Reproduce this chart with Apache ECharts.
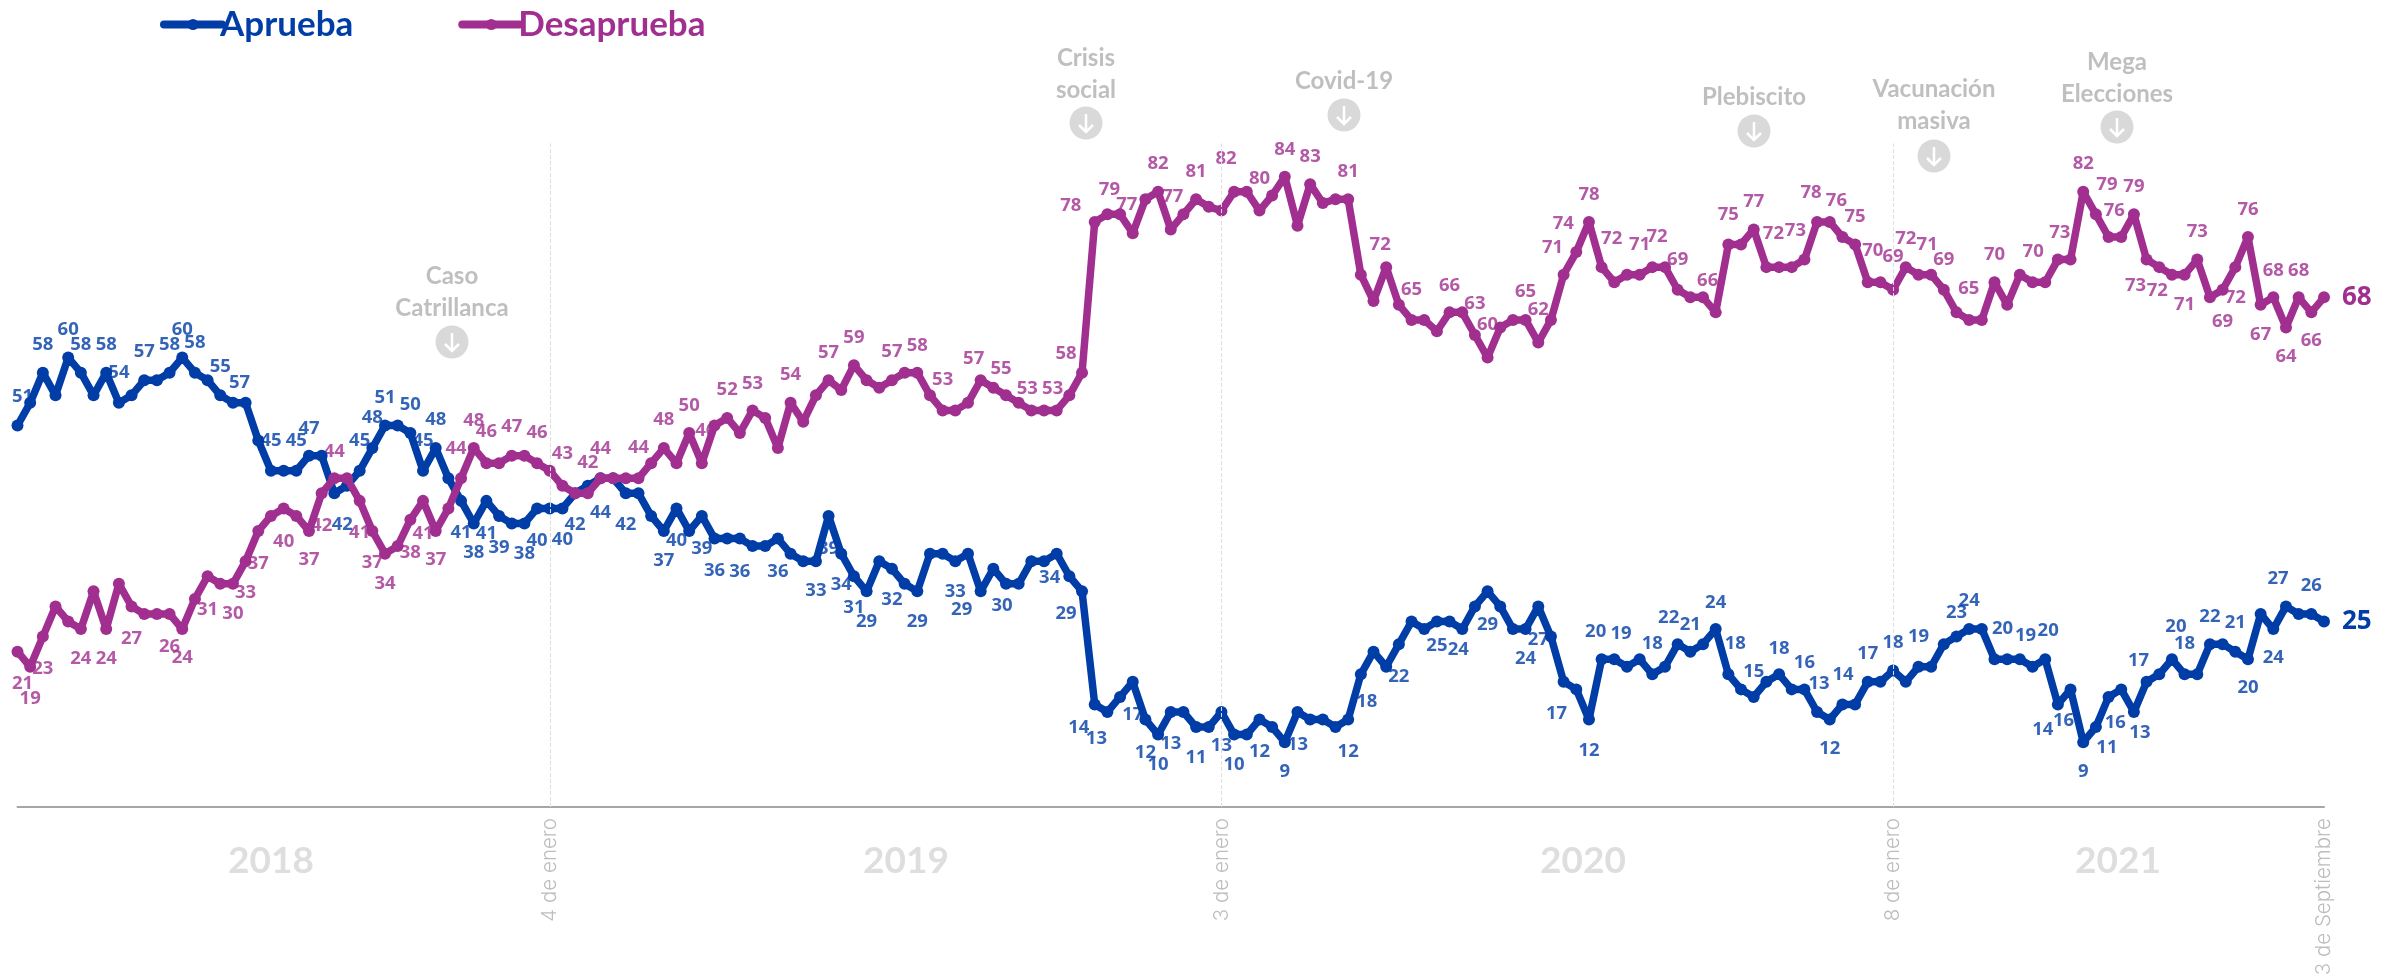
<!DOCTYPE html>
<html><head><meta charset="utf-8">
<style>html,body{margin:0;padding:0;background:#fff}#c{width:2399px;height:975px}</style>
<script src="https://cdn.jsdelivr.net/npm/echarts@6/dist/echarts.min.js"></script>
</head><body><div id="c"></div>
<script>
const aprueba=[51,54,58,55,60,58,55,58,54,55,
57,57,58,60,58,57,55,54,54,49,
45,45,45,47,47,42,43,45,48,51,
51,50,45,48,44,41,38,41,39,38,
38,40,40,40,42,43,44,44,42,42,
39,37,40,37,39,36,36,36,35,35,
36,34,33,33,39,34,31,29,33,32,
30,29,34,34,33,34,29,32,30,30,
33,33,34,31,29,14,13,15,17,12,
10,13,13,11,11,13,10,10,12,11,
9,13,12,12,11,12,18,21,19,22,
25,24,25,25,24,27,29,27,24,24,
27,23,17,16,12,20,20,19,20,18,
19,22,21,22,24,18,16,15,17,18,
16,16,13,12,14,14,17,17,18.5,17,
19,19,22,23,24,24,20,20,20,19,
20,14,16,9,11,15,16,13,17,18,
20,18,18,22,22,21,20,26,24,27,
26,26,25];
const desaprueba=[21,19,23,27,25,24,29,24,30,27,
26,26,26,24,28,31,30,30,33,37,
39,40,39,37,42,44,44,41,37,34,
35,38.5,41,37,40,44,48,46,46,47,
47,46,45,43,42,42,44,44,44,44,
46,48,46,50,46,51,52,50,53,52,
48,54,51.5,55,57,55.7,59,57,56,57,
58,58,55,53,53,54,57,56,55,54,
53,53,53,55,58,78,79,79,76.5,81,
82,77,79,81,80,79.5,82,82,79.5,81.5,
84,77.5,83,80.5,81,81,71,67.5,72,67,
65,65,63.5,66,66,63,60,64,65,65,
62,65,71,74,78,72,70,71,71,72,
72,69,68,68,66,75,75,77,72,72,
72,73,78,78,76,75,70,70,69,72,
71,71,69,66,65,65,70,67,71,70,
70,73,73,82,79,76,76,79,73,72,
71,71,73,68,69,72,76,67,68,64,
68,66,68];
const aprLabelText={0:51,2:58,4:60,5:58,7:58,8:54,10:57,12:58,13:60,14:58,16:55,18:57,20:45,22:45,23:47,25:42,27:45,28:48,29:51,31:50,32:45,33:48,35:41,36:38,37:41,38:39,40:38,41:40,43:40,44:42,46:44,48:42,51:37,52:40,54:39,55:36,57:36,60:36,63:33,64:39,65:34,66:31,67:29,69:32,71:29,74:33,76:29,78:30,82:34,84:29,85:14,86:13,88:17,89:12,90:10,91:13,93:11,95:13,96:10,98:12,100:9,101:13,105:12,106:18,109:22,112:25,114:24,116:29,119:24,120:27,122:17,124:12,125:20,127:19,129:18,131:22,132:21,134:24,135:18,137:15,139:18,141:16,142:13,143:12,145:14,146:17,148:18,150:19,153:23,154:24,156:20,159:19,160:20,161:14,162:16,163:9,164:11,166:16,167:13,168:17,170:20,171:18,173:22,175:21,176:20,178:24,179:27,181:26};
const desLabelText={0:21,1:19,2:23,5:24,7:24,9:27,12:26,13:24,15:31,17:30,18:33,19:37,21:40,23:37,24:42,25:44,27:41,28:37,29:34,31:38,32:41,33:37,35:44,36:48,37:46,39:47,41:46,43:43,45:42,46:44,49:44,51:48,53:50,54:46,56:52,58:53,61:54,64:57,66:59,69:57,71:58,73:53,76:57,78:55,80:53,82:53,84:58,85:78,86:79,88:77,90:82,91:77,93:81,96:82,98:80,100:84,102:83,105:81,108:72,110:65,113:66,115:63,116:60,119:65,120:62,122:71,123:74,124:78,125:72,128:71,130:72,131:69,134:66,135:75,137:77,138:72,141:73,142:78,144:76,145:75,146:70,148:69,149:72,151:71,152:69,155:65,156:70,160:70,161:73,163:82,164:79,166:76,167:79,168:73,169:72,171:71,172:73,174:69,175:72,176:76,177:67,178:68,179:64,180:68,181:66};
const endLabels=[25,68];
const tickIndex=[42,95,148,182];
const tickText=['4 de enero','3 de enero','8 de enero','3 de Septiembre'];
const yearText=['2018','2019','2020','2021'];
const eventText=[['Caso','Catrillanca'],['Crisis','social'],['Covid-19'],['Plebiscito'],['Vacunación','masiva'],['Mega','Elecciones']];

// ---- layout only (label nudges in px from the point: [dx, dy]) ----
const aprNudge={0:[5,-29],2:[0,-28],4:[0,-28],5:[0,-28],7:[0,-28],8:[0,-30],10:[0,-28],12:[0,-28],13:[0,-28],14:[0,-30],16:[0,-29],18:[-6,-20],20:[0,-30],22:[0,-30],23:[0,-27],25:[8,31],27:[0,-30],28:[0,-30],29:[0,-28],31:[0,-28],32:[0,-30],33:[0,-28],35:[0,32],36:[0,29],37:[0,33],38:[0,32],40:[0,30],41:[0,32],43:[0,31],44:[0,31],46:[0,34],48:[0,31],51:[0,30],52:[0,32],54:[0,33],55:[0,32],57:[0,33],60:[0,33],63:[0,30],64:[0,33],65:[0,31],66:[0,31],67:[0,30],69:[0,31],71:[0,30],74:[0,31],76:[-19,18],78:[-4,22],82:[-7,24],84:[-16,22],85:[-16,23],86:[-11,27],88:[0,33],89:[0,33],90:[0,30],91:[0,32],93:[0,31],95:[0,34],96:[0,30],98:[0,32],100:[0,30],101:[0,33],105:[0,32],106:[6,27],109:[0,33],112:[0,24],114:[-4,21],116:[0,33],119:[0,30],120:[0,33],122:[-7,32],124:[0,31],125:[-6,-27],127:[-6,-33],129:[0,-31],131:[-9,-26],132:[0,-27],134:[0,-26],135:[7,-31],137:[0,-25],139:[0,-26],141:[0,-27],142:[2,-28],143:[0,29],145:[-12,-30],146:[0,-28],148:[0,-28],150:[0,-30],153:[0,-24],154:[0,-28],156:[8,-30],159:[-7,-31],160:[3,-28],161:[-15,25],162:[-7,31],163:[0,30],164:[11,21],166:[-6,33],167:[6,21],168:[-8,-21],170:[4,-32],171:[0,-31],173:[0,-27],175:[0,-29],176:[0,29],178:[0,29],179:[-8,-28],181:[0,-28]};
const desNudge={0:[5,32],1:[0,32],2:[0,32],5:[0,30],7:[0,30],9:[0,32],12:[0,33],13:[0,29],15:[0,33],17:[0,30],18:[0,32],19:[0,33],21:[0,33],23:[0,29],24:[0,32],25:[0,-27],27:[0,32],28:[0,32],29:[0,30],31:[0,33],32:[0,33],33:[0,29],35:[-5,-30],36:[0,-27],37:[0,-31],39:[0,-29],41:[0,-30],43:[0,-32],45:[0,-31],46:[0,-30],49:[0,-31],51:[0,-28],53:[0,-27],54:[4,-32],56:[0,-28],58:[0,-27],61:[0,-28],64:[0,-27],66:[0,-27],69:[0,-28],71:[0,-27],73:[0,-31],76:[-7,-21],78:[-5,-27],80:[-4,-22],82:[-4,-22],84:[-16,-19],85:[-24,-16],86:[2,-25],88:[-6,-28],90:[0,-28],91:[2,-33],93:[0,-28],96:[-8,-33],98:[0,-32],100:[0,-27],102:[0,-27],105:[0,-28],108:[-6,-22],110:[0,-30],113:[0,-27],115:[0,-31],116:[0,-33],119:[0,-28],120:[0,-33],122:[-11,-27],123:[-13,-28],124:[0,-27],125:[10,-28],128:[0,-30],130:[-8,-30],131:[0,-30],134:[-8,-32],135:[0,-30],137:[0,-28],138:[7,-33],141:[-9,-29],142:[-6,-29],144:[-6,-36],145:[0,-28],146:[5,-31],148:[0,-33],149:[0,-28],151:[-4,-30],152:[0,-30],155:[-13,-31],156:[0,-27],160:[-12,-30],161:[2,-27],163:[0,-28],164:[11,-30],166:[-7,-26],167:[0,-28],168:[-11,26],169:[-2,24],171:[0,30],172:[0,-28],174:[0,32],175:[0,31],176:[0,-27],177:[0,30],178:[0,-27],179:[0,29],180:[0,-27],181:[0,28]};
const yearX=[271,906,1583,2118];
const eventPos=[[452,276,342],[1086,58,123],[1344,81,115],[1754,97,131],[1934,89,156],[2117,62,127]];

const BLUE='#003da6',PURPLE='#a12f90',FONT='Lato',LABEL_FONT='Open Sans';
const categories=aprueba.map((_,i)=>{const k=tickIndex.indexOf(i);return k<0?'':tickText[k];});

function labelData(text,nudge,series){
  return Object.keys(text).map(k=>{const i=+k;return{
    value:[i,series[i]],
    label:{formatter:String(text[k]),offset:nudge[k]}};});
}
function labelSeries(name,text,nudge,series,color){
  return {name,type:'scatter',z:1,silent:true,symbolSize:1,itemStyle:{color:'transparent'},
    label:{show:true,position:'inside',color,fontFamily:LABEL_FONT,fontWeight:700,fontSize:18.5},
    data:labelData(text,nudge,series)};
}
function lineSeries(name,data,color,z,endVal){
  return {name,type:'line',z,data,smooth:false,symbol:'circle',symbolSize:12,showSymbol:true,showAllSymbol:true,
    lineStyle:{color,width:7.5,join:'round',cap:'round'},itemStyle:{color},
    endLabel:{show:true,formatter:String(endVal),color,fontFamily:LABEL_FONT,fontWeight:700,fontSize:26,distance:18},
    emphasis:{disabled:true},
    markLine:{silent:true,symbol:'none',label:{show:false},animation:false,
      lineStyle:{color:'#dedede',width:1,type:'dashed'},
      data:z===3?tickIndex.slice(0,3).map(t=>[{xAxis:t,yAxis:0.4},{xAxis:t,yAxis:88.4}]):[]}};
}
const graphic=[];
yearText.forEach((t,k)=>graphic.push({type:'text',x:yearX[k],y:861,style:{text:t,fill:'#dedede',font:'700 37px '+FONT,align:'center',verticalAlign:'middle'}}));
eventText.forEach((lines,k)=>{
  const [x,y,cy]=eventPos[k];
  lines.forEach((t,j)=>graphic.push({type:'text',x,y:y+j*32,style:{text:t,fill:'#bfbfbf',font:'700 24px '+FONT,align:'center',verticalAlign:'middle'}}));
  graphic.push({type:'circle',shape:{cx:x,cy,r:16.5},style:{fill:'#d9d9d9'}});
  graphic.push({type:'polyline',shape:{points:[[x,cy-9],[x,cy+9]]},style:{stroke:'#fff',lineWidth:2.5,fill:null}});
  graphic.push({type:'polyline',shape:{points:[[x-7,cy+2],[x,cy+9],[x+7,cy+2]]},style:{stroke:'#fff',lineWidth:2.5,fill:null}});
});

const chart=echarts.init(document.getElementById('c'),null,{renderer:'canvas'});
chart.setOption({
  animation:false,backgroundColor:'#fff',
  grid:{left:17.5,right:75,top:7,bottom:168,containLabel:false,outerBoundsMode:'none'},
  tooltip:{show:false},
  legend:{data:[{name:'Aprueba',textStyle:{color:BLUE}},{name:'Desaprueba',textStyle:{color:PURPLE}}],
    left:155,top:2,itemWidth:58,itemHeight:14,itemGap:105,lineStyle:{width:8},
    textStyle:{fontFamily:FONT,fontWeight:700,fontSize:35,padding:[0,0,0,-7]},selectedMode:false},
  xAxis:{type:'category',data:categories,boundaryGap:false,
    axisTick:{show:false},
    axisLine:{lineStyle:{color:'#a6a6a6',width:2}},
    axisLabel:{interval:(i)=>tickIndex.includes(i),rotate:90,margin:11,color:'#bdbdbd',fontFamily:'Inter',fontWeight:300,fontSize:20.5,showMaxLabel:true,hideOverlap:false},
    splitLine:{show:false}},
  yAxis:{type:'value',min:0.4,max:106.5,show:false,splitLine:{show:false}},
  series:[
    labelSeries('Etiquetas Aprueba',aprLabelText,aprNudge,aprueba,BLUE),
    labelSeries('Etiquetas Desaprueba',desLabelText,desNudge,desaprueba,PURPLE),
    lineSeries('Aprueba',aprueba,BLUE,2,endLabels[0]),
    lineSeries('Desaprueba',desaprueba,PURPLE,3,endLabels[1])
  ],
  graphic
});
</script></body></html>
